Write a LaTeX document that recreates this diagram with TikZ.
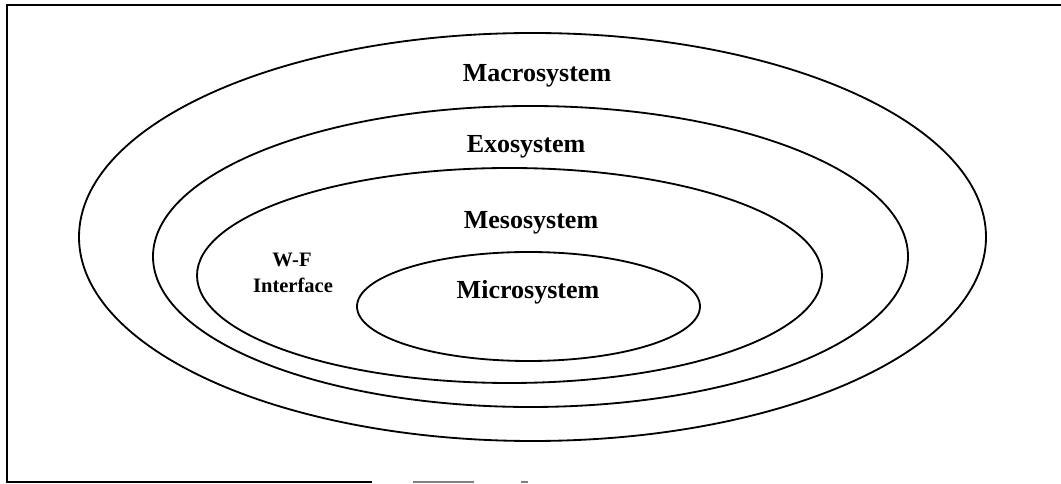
\documentclass[tikz,border=0pt]{standalone}
\usepackage{fontspec}
\setmainfont{Liberation Serif}
\usepackage{tikz}
\usetikzlibrary{positioning}
\tikzset{
  ring/.style={line width=1.3pt, black},
  framel/.style={line width=1.2pt, black},
  syslabel/.style={anchor=base, inner sep=0pt,
                   font=\fontsize{18.5}{22}\selectfont\bfseries},
  smalllabel/.style={anchor=base, inner sep=0pt,
                     font=\fontsize{14.6}{18}\selectfont\bfseries},
}

\begin{document}
\begin{tikzpicture}[x=0.025cm, y=-0.025cm]
  \useasboundingbox (0,0) rectangle (1061,484);

  % frame (top and left full, bottom broken)
  \draw[framel] (1061,5) -- (7,5) -- (7,482) -- (372,482);
  \draw[framel, gray] (413,482) -- (474,482);
  \draw[framel, gray] (521,482) -- (528,482);

  % nested systems
  \draw[ring] (532.5,237) ellipse [x radius=453.5, y radius=204];
  \draw[ring] (530.5,256.5) ellipse [x radius=377.5, y radius=150.5];
  \draw[ring] (509.5,275.5) ellipse [x radius=312.5, y radius=107.5];
  \draw[ring] (528.5,306.5) ellipse [x radius=171.5, y radius=54.5];

  % labels
  \node[syslabel] (macro) at (537,82)  {Macrosystem};
  \node[syslabel] (exo)   at (526,153) {Exosystem};
  \node[syslabel] (meso)  at (531,229) {Mesosystem};
  \node[syslabel] (micro) at (528,299) {Microsystem};
  \node[smalllabel] (wf)    at (292,267) {W-F};
  \node[smalllabel] (iface) at (293,293) {Interface};
\end{tikzpicture}
\end{document}
